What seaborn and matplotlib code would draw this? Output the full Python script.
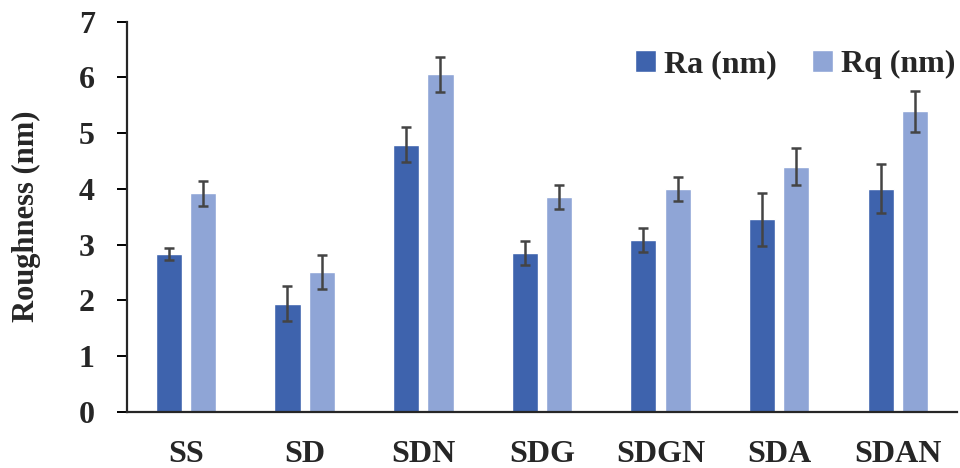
import numpy as np
import pandas as pd
import matplotlib
matplotlib.use("Agg")
import matplotlib.pyplot as plt
import seaborn as sns

# sample names and roughness values
samples = ['SS', 'SD', 'SDN', 'SDG', 'SDGN', 'SDA', 'SDAN']
ra = [2.83, 1.94, 4.79, 2.85, 3.08, 3.45, 4.00]
rq = [3.92, 2.51, 6.05, 3.85, 4.00, 4.40, 5.39]
ra_err = [0.10, 0.31, 0.31, 0.22, 0.21, 0.48, 0.44]
rq_err = [0.22, 0.31, 0.31, 0.22, 0.22, 0.33, 0.37]
series = ['Ra (nm)', 'Rq (nm)']
colors = ['#3E63AD', '#8FA5D6']

# long format table for seaborn
df = pd.DataFrame({
    'Sample': samples * 2,
    'Roughness': ra + rq,
    'Type': [series[0]] * len(samples) + [series[1]] * len(samples),
})

sns.set_style("ticks")
plt.rcParams['font.family'] = ['Liberation Serif', 'DejaVu Serif']
plt.rcParams['font.weight'] = 'bold'

fig = plt.figure(figsize=(9.6, 4.68), dpi=100)
ax = fig.add_axes([0.132, 0.120, 0.865, 0.834])

sns.barplot(data=df, x='Sample', y='Roughness', hue='Type', order=samples,
            hue_order=series, palette=colors, width=0.58, gap=0.24,
            errorbar=None, saturation=1, ax=ax)

# error bars placed on the bars drawn by seaborn
for cont, errs in zip(ax.containers, [ra_err, rq_err]):
    xs = [p.get_x() + p.get_width() / 2 for p in cont.patches]
    hs = [p.get_height() for p in cont.patches]
    ax.errorbar(xs, hs, yerr=errs, fmt='none', ecolor='#444444',
                elinewidth=1.8, capsize=3.8, capthick=1.8, zorder=5)

ax.set_ylim(0, 7)
ax.set_xlim(-0.5, 6.5)
ax.set_yticks(range(0, 8))
ax.set_xlabel('')
ax.set_ylabel('Roughness (nm)', fontsize=22, fontweight='bold')
ax.yaxis.set_label_coords(-0.103, 0.5)

for s in ['top', 'right']:
    ax.spines[s].set_visible(False)
ax.spines['left'].set_linewidth(1.6)
ax.spines['bottom'].set_linewidth(1.6)
ax.tick_params(axis='y', length=7, width=1.4, pad=16, labelsize=23, color='black')
ax.tick_params(axis='x', length=0, pad=20, labelsize=23)
for lab in ax.get_xticklabels() + ax.get_yticklabels():
    lab.set_fontweight('bold')

ax.legend(loc='upper right', bbox_to_anchor=(1.032, 1.0), ncol=2, frameon=False,
          handlelength=0.65, handleheight=0.65, handletextpad=0.25,
          columnspacing=1.1, prop={'size': 23, 'weight': 'bold'})

fig.savefig('out.png', dpi=100)
